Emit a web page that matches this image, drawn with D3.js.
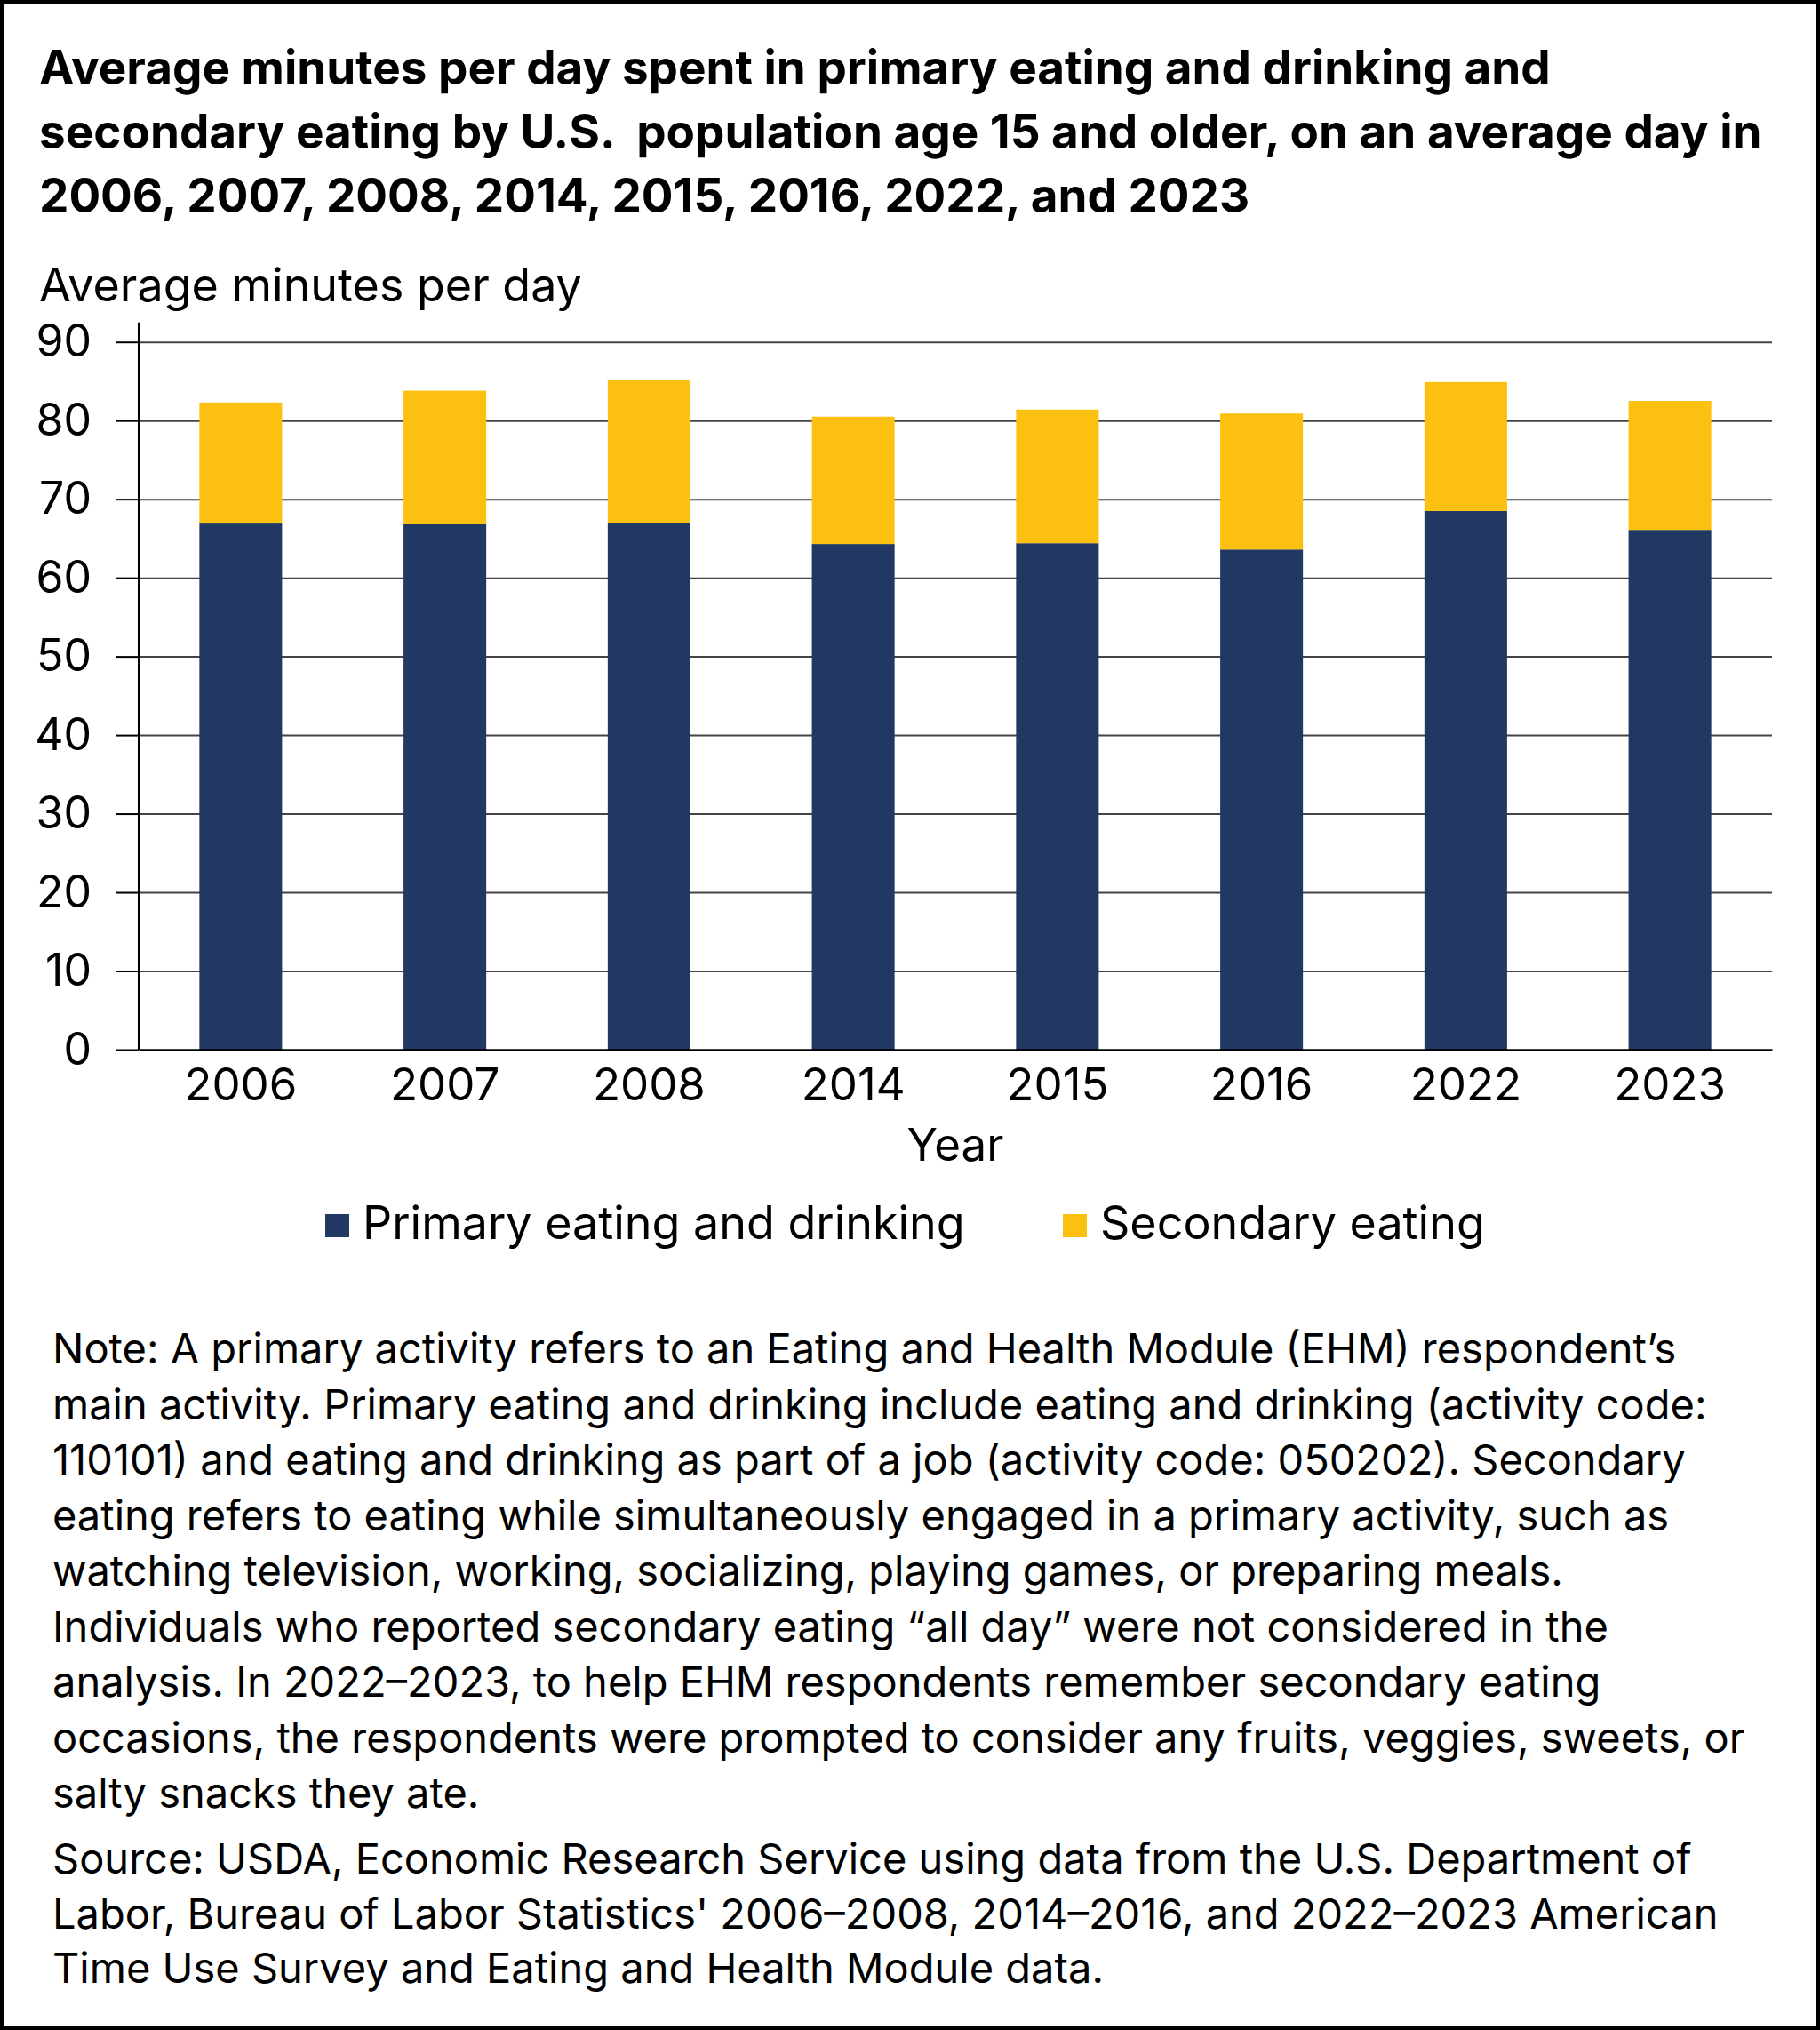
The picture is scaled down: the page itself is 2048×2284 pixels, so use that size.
<!DOCTYPE html>
<html lang="en">
<head>
    <meta charset="UTF-8">
    <title>Average minutes per day spent eating</title>
    <style>
        body { margin: 0; background: #fff; }
        text { font-family: 'Inter', 'Liberation Sans', sans-serif; fill: #000; }
        .title { font-weight: 700; font-size: 53px; white-space: pre; }
    </style>
</head>
<body>
    <div id="container"></div>
    <script src="https://d3js.org/d3.v7.min.js"></script>
    <script>
        // data
        const years = ['2006', '2007', '2008', '2014', '2015', '2016', '2022', '2023'];
        const primary = [66.9, 66.8, 67.0, 64.3, 64.4, 63.6, 68.5, 66.1];
        const secondary = [15.4, 17.0, 18.1, 16.2, 17.0, 17.3, 16.4, 16.4];
        const seriesNames = ['Primary eating and drinking', 'Secondary eating'];
        const yTicks = [0, 10, 20, 30, 40, 50, 60, 70, 80, 90];

        const titleLines = [
            'Average minutes per day spent in primary eating and drinking and',
            'secondary eating by U.S.  population age 15 and older, on an average day in',
            '2006, 2007, 2008, 2014, 2015, 2016, 2022, and 2023'
        ];
        const noteLines = [
            'Note: A primary activity refers to an Eating and Health Module (EHM) respondent\u2019s',
            'main activity. Primary eating and drinking include eating and drinking (activity code:',
            '110101) and eating and drinking as part of a job (activity code: 050202). Secondary',
            'eating refers to eating while simultaneously engaged in a primary activity, such as',
            'watching television, working, socializing, playing games, or preparing meals.',
            'Individuals who reported secondary eating \u201call day\u201d were not considered in the',
            'analysis. In 2022\u20132023, to help EHM respondents remember secondary eating',
            'occasions, the respondents were prompted to consider any fruits, veggies, sweets, or',
            'salty snacks they ate.'
        ];
        const sourceLines = [
            'Source: USDA, Economic Research Service using data from the U.S. Department of',
            'Labor, Bureau of Labor Statistics\' 2006\u20132008, 2014\u20132016, and 2022\u20132023 American',
            'Time Use Survey and Eating and Health Module data.'
        ];

        const colors = ['#213863', '#fcc010'];

        const W = 2048, H = 2284;
        const margin = {top: 384.7, right: 54, bottom: 1103, left: 156};
        const width = W - margin.left - margin.right;
        const height = H - margin.top - margin.bottom;

        const svg = d3.select('#container').append('svg')
            .attr('width', W).attr('height', H);

        // frame
        svg.append('rect').attr('x', 2.5).attr('y', 2.5)
            .attr('width', W - 5).attr('height', H - 5)
            .attr('fill', 'none').attr('stroke', '#000').attr('stroke-width', 5);

        // title
        svg.append('g').selectAll('text').data(titleLines).join('text')
            .attr('class', 'title')
            .attr('x', 44).attr('y', (d, i) => 94.5 + i * 72.3)
            .text(d => d);

        svg.append('text').attr('x', 44).attr('y', 339)
            .style('font-size', '52px').text('Average minutes per day');

        const g = svg.append('g').attr('transform', `translate(${margin.left},${margin.top})`);

        const x = d3.scaleBand().domain(years).range([0, width])
            .paddingInner(0.595).paddingOuter(0.2975);
        const y = d3.scaleLinear().domain([0, 90]).range([height, 0]);

        // gridlines
        g.append('g').attr('class', 'grid')
            .call(d3.axisLeft(y).tickValues(yTicks.slice(1)).tickSize(-width).tickFormat(''))
            .call(s => s.select('.domain').remove())
            .call(s => s.selectAll('line').attr('stroke', '#444').attr('stroke-width', 2));

        // stacked bars
        const rows = years.map((yr, i) => ({year: yr, p: primary[i], s: secondary[i]}));
        const stacked = d3.stack().keys(['p', 's'])(rows);

        g.append('g').selectAll('g').data(stacked).join('g')
            .attr('fill', (d, i) => colors[i])
            .selectAll('rect').data(d => d).join('rect')
            .attr('x', d => x(d.data.year))
            .attr('width', x.bandwidth())
            .attr('y', d => y(d[1]))
            .attr('height', d => y(d[0]) - y(d[1]));

        // y axis
        const yAxis = g.append('g')
            .call(d3.axisLeft(y).tickValues(yTicks).tickSize(26).tickPadding(27).tickSizeOuter(0));
        yAxis.select('.domain').attr('d', `M0,${y(90) - 22}V${height}`).attr('stroke', '#000').attr('stroke-width', 2);
        yAxis.selectAll('line').attr('stroke', '#000').attr('stroke-width', 2);
        yAxis.selectAll('text').style('font-size', '50px').attr('font-family', null);

        // x axis
        const xAxis = g.append('g').attr('transform', `translate(0,${height})`)
            .call(d3.axisBottom(x).tickSize(0).tickPadding(20));
        xAxis.select('.domain').attr('stroke', '#000').attr('stroke-width', 2.5);
        xAxis.selectAll('text').style('font-size', '51px').attr('font-family', null)
            .attr('dy', null).attr('y', 57);

        g.append('text').attr('x', width / 2).attr('y', 1306 - margin.top)
            .attr('text-anchor', 'middle').style('font-size', '51px').text('Year');

        // legend
        const legendX = [366, 1196];
        const legend = svg.append('g').selectAll('g').data(seriesNames).join('g')
            .attr('transform', (d, i) => `translate(${legendX[i]},1366)`);
        legend.append('rect').attr('width', 27).attr('height', 26)
            .attr('fill', (d, i) => colors[i]);
        legend.append('text').attr('x', 42).attr('y', 28)
            .style('font-size', '52px').text(d => d);

        // note and source
        svg.append('g').selectAll('text').data(noteLines).join('text')
            .attr('x', 59).attr('y', (d, i) => 1534 + i * 62.5)
            .style('font-size', '47px').text(d => d);
        svg.append('g').selectAll('text').data(sourceLines).join('text')
            .attr('x', 59).attr('y', (d, i) => 2108 + i * 61.5)
            .style('font-size', '47px').text(d => d);
    </script>
</body>
</html>
